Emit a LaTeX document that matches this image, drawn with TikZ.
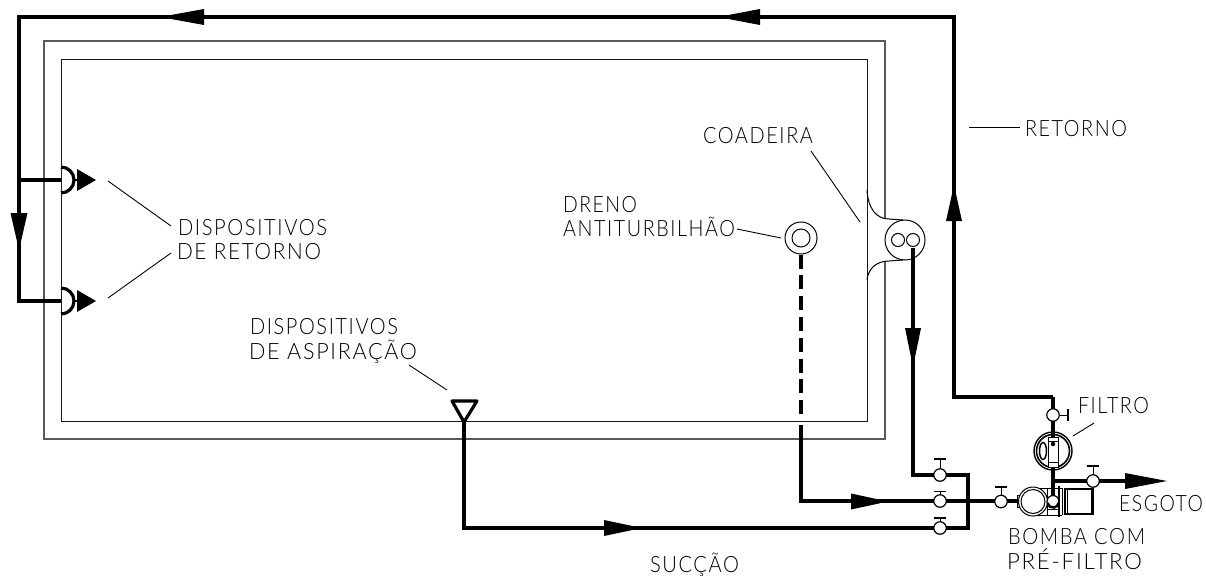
\documentclass[tikz,border=0pt]{standalone}
\usepackage{fontspec}
\usepackage{graphicx}
\usetikzlibrary{shapes.geometric}
\setmainfont{Lato}[UprightFont=* Light]
\tikzset{
  pipe/.style={line width=3.4pt,line cap=butt,line join=miter},
  wall/.style={line width=1pt,draw=black!90},
  wallout/.style={line width=1.1pt,draw=black!65},
  lead/.style={line width=0.9pt},
  valvenode/.style={circle,draw=black,fill=white,line width=1.2pt,minimum size=12.5pt,inner sep=0pt},
  lbl/.style={anchor=base west,inner sep=0pt,outer sep=0pt,text=black}
}
\newcommand{\flowtip}[5]{% tip x,y, angle, length, half width
  \fill[shift={(#1,#2)},rotate=#3] (0pt,0pt) -- (-#4pt,#5pt) -- (-#4pt,-#5pt) -- cycle;}
\newcommand{\txt}[5]{% name,x,baseline y,width,text
  \node[lbl] (#1) at (#2,#3) {\resizebox{#4pt}{\height}{\fontsize{22.5pt}{22.5pt}\selectfont\addfontfeature{LetterSpace=8}#5}};}
\newcommand{\valveup}[4]{% name,x,y,bar y
  \node[valvenode] (#1) at (#2,#3) {};
  \draw[line width=1pt] (#1.north) -- (#2,#4);
  \draw[line width=1.1pt] (#2-6,#4) -- (#2+6,#4);}
\begin{document}
\begin{tikzpicture}[x=1pt,y=-1pt]
\useasboundingbox (0,0) rectangle (1206,575);
% pool walls
\draw[wall] (61,60) rectangle (867,421);
\draw[wallout] (885,219) -- (885,41) -- (44,41) -- (44,439) -- (885,439) -- (885,261);
% skimmer
\node[circle,draw,line width=1pt,minimum size=40pt,inner sep=0pt] (skim) at (905,240) {};
\node[circle,draw,line width=1pt,minimum size=13pt,inner sep=0pt] (skimA) at (898,240) {};
\node[circle,draw,line width=1pt,minimum size=13pt,inner sep=0pt] (skimB) at (913,240) {};
\draw[line width=1pt] (867,190) .. controls (868,208) and (876,219) .. (889,219) -- (903,220);
\draw[line width=1pt] (867,280) .. controls (868,270) and (875,261) .. (889,261) -- (903,260);
% drain
\node[circle,draw,line width=1pt,minimum size=32pt,inner sep=0pt] (drain) at (801,238) {};
\node[circle,draw,line width=1pt,minimum size=18pt,inner sep=0pt] (drainIn) at (801,238) {};
% return devices
\coordinate (retA) at (61,180);
\coordinate (retB) at (61,301);
\coordinate (retBend) at (19,301);
\coordinate (retTopL) at (19,17);
\coordinate (retTopR) at (954,17);
\coordinate (retLow) at (954,397);
\coordinate (retF) at (1053,397);
\draw[pipe] (retF) -- (retLow) -- (retTopR) -- (retTopL) -- (retBend) -- (retB);
\draw[pipe] (19,180) -- (retA);
\foreach \yy in {180,301}{
  \draw[line width=3.2pt] (61,\yy-13) arc[start angle=90,end angle=-90,radius=13pt];
  \draw[line width=1.2pt] (74,\yy) -- (78,\yy);
  \flowtip{96}{\yy}{0}{19}{11}
}
% aspiration device
\coordinate (aspTip) at (464,422);
\coordinate (aspLow) at (464,528);
\coordinate (jR) at (968,528);
\coordinate (jT) at (968,475);
\coordinate (skimLow) at (913,475);
\draw[line width=3.2pt,line join=round] (452,401) -- (477,401) -- (aspTip) -- cycle;
\draw[pipe] (aspTip) -- (aspLow) -- (jR) -- (jT) -- (skimLow) -- (913,248);
% drain line
\coordinate (drainJ) at (801,501);
\coordinate (dashEnd) at (801,420);
\coordinate (solidStart) at (801,425);
\draw[pipe,dash pattern=on 14pt off 6.8pt] (drain.south) -- (dashEnd);
\draw[pipe] (solidStart) -- (drainJ) -- (1017,501);
% flow arrows
\flowtip{160}{17}{180}{44}{8}
\flowtip{718}{17}{180}{42}{8}
\flowtip{19}{250}{-90}{37}{8.5}
\flowtip{954}{185}{90}{36}{8}
\flowtip{913}{367}{-90}{39}{8}
\flowtip{888}{501.5}{0}{37}{8}
\flowtip{642}{528}{0}{38}{8}
% valves
\valveup{vA}{940}{475}{459}
\valveup{vB}{940}{501}{491.5}
\valveup{vC}{940}{528}{518}
\valveup{vD}{1001}{501.5}{487}
% filter branch
\draw[pipe] (retF) -- (1053,501);
\node[valvenode] (vF) at (1053,415) {};
\draw[line width=1pt] (vF.east) -- (1068,415);
\draw[line width=1.1pt] (1068,409) -- (1068,421);
\node[circle,draw,fill=white,line width=1.4pt,minimum size=38pt,inner sep=0pt] (filtO) at (1053,451) {};
\node[circle,draw,line width=1.6pt,minimum size=33pt,inner sep=0pt] (filtI) at (1053,451) {};
\draw[pipe] (1053,433) -- (1053,437);
\node[draw,fill=white,line width=1pt,minimum width=10pt,minimum height=30pt,inner sep=0pt] (filtB) at (1053,452) {};
\fill (1053,444) circle[radius=2.2pt];
\draw[line width=1pt] (1048,441) -- (1058,441) (1048,462) -- (1058,462);
\node[ellipse,draw,line width=1.5pt,minimum width=7pt,minimum height=17pt,inner sep=0pt] (filtE) at (1043,451) {};
% esgoto
\coordinate (esgA) at (1053,481);
\coordinate (esgB) at (1126,481);
\draw[pipe] (esgA) -- (esgB);
\flowtip{1167}{481}{0}{42}{8}
\valveup{vE}{1093}{481}{466}
% pump
\draw[line width=1pt] (1032,488) -- (1062,488) (1032,515) -- (1062,515);
\node[draw,fill=black!15,line width=1pt,minimum width=4pt,minimum height=12pt,inner sep=0pt] (coup) at (1019,501.5) {};
\node[circle,draw,fill=white,line width=1pt,minimum size=29pt,inner sep=0pt] (pumpO) at (1033,501.5) {};
\node[circle,draw,line width=1pt,minimum size=24pt,inner sep=0pt] (pumpI) at (1033,501.5) {};
\draw[line width=1pt] (1047,488) -- (1047,515) (1062,488) -- (1062,515);
\draw[line width=1pt] (1047,509) -- (1059,509);
\draw[pipe] (1053,467) -- (1053,496);
\node[circle,draw=black,fill=white,line width=1.2pt,minimum size=12pt,inner sep=0pt] (pre) at (1053,501.5) {};
\draw[line width=2.4pt] (1047.5,503) arc[start angle=190,end angle=350,radius=5.6pt];
\draw[line width=1.8pt] (1059,486) -- (1059,517);
\node[draw,line width=1.1pt,minimum width=28pt,minimum height=25pt,inner sep=0pt] (motor) at (1079,501.5) {};
\draw[line width=1pt] (1067.5,489) -- (1067.5,514);
\draw[line width=1pt] (1091,489) -- (1091,514);
% leaders and labels
\txt{tRet}{1025}{136}{102}{RETORNO}
\draw[lead] (969,127) -- (1020,127);
\txt{tCoa}{703}{143}{110}{COADEIRA}
\draw[lead] (811,151) -- (860,222);
\txt{tDre}{563}{212}{74}{DRENO}
\txt{tAnt}{563}{236}{172}{ANTITURBILHÃO}
\draw[lead] (737,229) -- (781,238);
\txt{tDisA}{178}{235}{149}{DISPOSITIVOS}
\txt{tDeR}{177}{259}{144}{DE RETORNO}
\draw[lead] (108,181) -- (171,226);
\draw[lead] (108,298) -- (171,253);
\txt{tDisB}{250}{334}{148}{DISPOSITIVOS}
\txt{tDeA}{249}{359}{168}{DE ASPIRAÇÃO}
\draw[lead] (409,365) -- (447,390);
\txt{tSuc}{650}{572}{89}{SUCÇÃO}
\txt{tFil}{1078}{413}{71}{FILTRO}
\draw[lead] (1073,436) -- (1094,423);
\txt{tEsg}{1119}{511}{84}{ESGOTO}
\txt{tBom}{1008}{544}{137}{BOMBA COM}
\txt{tPre}{1007}{569}{135}{PRÉ-FILTRO}
\end{tikzpicture}
\end{document}
